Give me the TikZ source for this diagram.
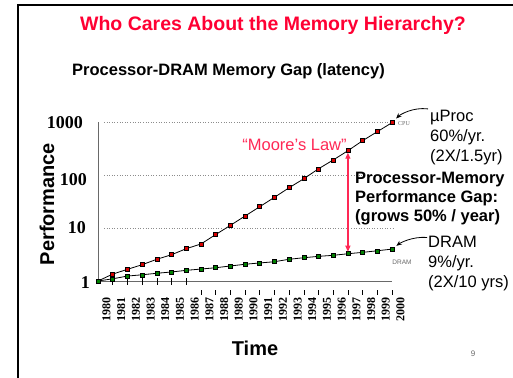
\documentclass[tikz,border=0pt]{standalone}
\usepackage{fontspec}
\setmainfont{Liberation Serif}
\setsansfont{Liberation Sans}
\usetikzlibrary{arrows.meta,positioning,calc,backgrounds}
\definecolor{SlideRed}{RGB}{255,0,51}
\definecolor{LeiRosa}{RGB}{255,40,85}
\definecolor{CpuRed}{RGB}{215,0,0}
\definecolor{DramGreen}{RGB}{0,128,0}
\definecolor{EixoGray}{RGB}{105,105,105}
\definecolor{GradeGray}{RGB}{140,140,140}
\tikzset{
  titulo/.style={font=\sffamily\bfseries\fontsize{19.5}{23}\selectfont, text=SlideRed, inner sep=0pt},
  subtitulo/.style={font=\sffamily\bfseries\fontsize{16.5}{20}\selectfont, inner sep=0pt},
  rotuloeixo/.style={font=\sffamily\bfseries\fontsize{20}{24}\selectfont, inner sep=0pt},
  valor/.style={font=\bfseries\fontsize{18}{20}\selectfont, inner sep=0pt, anchor=east},
  ano/.style={font=\bfseries\fontsize{12}{12}\selectfont, inner sep=0pt, rotate=90, anchor=east},
  nota/.style={font=\sffamily\fontsize{16.5}{20}\selectfont, align=left, inner sep=0pt, anchor=west},
  notanegrito/.style={font=\sffamily\bfseries\fontsize{16.5}{19}\selectfont, align=left, inner sep=0pt, anchor=west},
  minirotulo/.style={text=EixoGray, inner sep=0pt},
  ponto/.style={draw=black, line width=0.5pt, minimum size=4pt, inner sep=0pt, outer sep=0pt},
  pontocpu/.style={ponto, fill=CpuRed},
  pontodram/.style={ponto, fill=DramGreen},
  linha/.style={black, line width=0.8pt},
  grade/.style={GradeGray, line width=0.6pt, dotted},
  eixo/.style={EixoGray, line width=0.9pt},
  marca/.style={black, line width=0.6pt},
  seta/.style={-{Stealth[length=5.5pt, width=4.5pt]}, black, line width=0.8pt},
  setagap/.style={{Triangle[length=6pt, width=5pt]}-{Triangle[length=6pt, width=5pt]}, LeiRosa, line width=1.2pt},
}

\begin{document}
\begin{tikzpicture}[x=1pt, y=-1pt]
  \useasboundingbox (0,0) rectangle (513,377);

  % moldura do slide
  \draw[line width=2pt] (18,378) -- (18,5) -- (514,5);

  % titulos
  \node[titulo] (tit) at (273,25) {Who Cares About the Memory Hierarchy?};
  \node[subtitulo, anchor=west] (sub) at (72,71) {Processor-DRAM Memory Gap (latency)};

  % grade e eixos
  \foreach \y in {122,175,228}{
    \draw[grade] (104,\y) -- (393,\y);
  }
  \draw[eixo] (98,122) -- (98,281) -- (392,281);
  \foreach \n in {1,...,6}{
    \draw[marca] ({98+14.7*\n},278) -- ++(0,7);
  }
  \foreach \n in {7,...,20}{
    \draw[marca] ({98+14.7*\n},290) -- ++(0,5);
  }

  % rotulos dos eixos
  \node[valor] (v1000) at (83,123) {1000};
  \node[valor] (v100) at (87,180) {100};
  \node[valor] (v10) at (86,228) {10};
  \node[valor] (v1) at (90,283) {1};
  \foreach \n in {0,...,20}{
    \pgfmathtruncatemacro\anoval{1980+\n}
    \node[ano] (a\n) at ({106.5+14.7*\n},297) {\anoval};
  }
  \node[rotuloeixo, rotate=90] (perf) at (47,204) {Performance};
  \node[rotuloeixo] (tempo) at (255,348) {Time};

  % series (anos 1980--2000, escala log)
  \begin{scope}[shift={(98,281)}, x=14.7pt, y=53pt]
    \foreach \v [count=\n from 0] in {1,1.35,1.66,2.03,2.57,3.13,4.07,4.99,7.5,11.2,16.8,
                                      25.2,37.9,57.5,85,131,192,287,444,657,972}{
      \node[pontocpu] (c\n) at (\n,{ln(\v)/ln(10)}) {};
    }
    \foreach \v [count=\n from 0] in {1,1.1,1.24,1.31,1.4,1.48,1.59,1.68,1.78,1.92,2.07,
                                      2.19,2.31,2.57,2.75,2.92,3.05,3.27,3.47,3.72,4.0}{
      \node[pontodram] (d\n) at (\n,{ln(\v)/ln(10)}) {};
    }
  \end{scope}
  \begin{scope}[on background layer]
    \foreach \n in {1,...,20}{
      \pgfmathtruncatemacro\m{\n-1}
      \draw[linha] (c\m.center) -- (c\n.center);
      \draw[linha] (d\m.center) -- (d\n.center);
    }
  \end{scope}
  \node[minirotulo, font=\fontsize{6}{6}\selectfont] (lcpu) at (404,124) {CPU};
  \node[minirotulo, font=\sffamily\fontsize{6.5}{6.5}\selectfont] (ldram) at (402,262) {DRAM};

  % anotacoes
  \node[font=\sffamily\fontsize{16.5}{20}\selectfont, text=LeiRosa, inner sep=0pt] (moore) at (294.5,145) {“Moore’s Law”};
  \draw[setagap] (c17) -- (d17);
  \node[notanegrito] (gap) at (355,199) {Processor-Memory\\Performance Gap:\\(grows 50\% / year)};

  \node[nota] (uproc) at (430,137.5) {µProc\\60\%/yr.\\(2X/1.5yr)};
  \node[nota] (dram) at (428,264) {DRAM\\9\%/yr.\\(2X/10 yrs)};
  \coordinate (upc) at ($(uproc.north west)+(-2,-1)$);
  \coordinate (drc) at ($(dram.north west)+(-1,1)$);
  \draw[seta, shorten >=3pt] (upc) .. controls +(-15,-2) and +(8,-8) .. (c20);
  \draw[seta, shorten >=3pt] (drc) .. controls +(-15,-1) and +(8,-6) .. (d20);

  % numero da pagina
  \node[font=\sffamily\fontsize{8}{8}\selectfont, text=EixoGray, inner sep=0pt] (pag) at (473,354) {9};
\end{tikzpicture}
\end{document}
